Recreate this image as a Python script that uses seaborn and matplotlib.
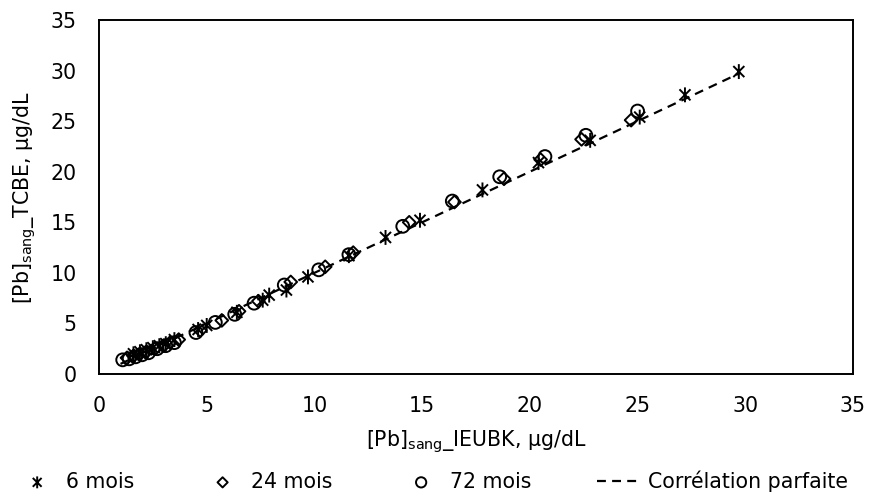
import numpy as np
import pandas as pd
import matplotlib
matplotlib.use("Agg")
import matplotlib.pyplot as plt
from matplotlib.path import Path
import seaborn as sns

# ---- data ----
x_6 = [1.6, 1.9, 2.2, 2.5, 2.8, 3.1, 3.5, 4.6, 5.0, 6.4, 7.6, 7.9, 8.7, 9.7, 11.6, 13.3, 14.9, 17.8, 20.4, 22.8, 25.1, 27.2, 29.7]
y_6 = [2.0, 2.2, 2.4, 2.6, 2.8, 3.0, 3.4, 4.4, 4.8, 6.1, 7.3, 7.8, 8.3, 9.6, 11.7, 13.5, 15.2, 18.2, 20.9, 23.1, 25.4, 27.6, 29.9]

x_24 = [1.3, 1.6, 1.9, 2.2, 2.6, 3.0, 3.3, 3.7, 4.7, 5.7, 6.5, 7.4, 8.9, 10.5, 11.8, 14.4, 16.5, 18.8, 20.5, 22.4, 24.7]
y_24 = [1.6, 1.8, 2.0, 2.2, 2.5, 2.8, 3.1, 3.4, 4.3, 5.3, 6.2, 7.2, 9.1, 10.6, 12.0, 15.0, 17.0, 19.3, 21.2, 23.2, 25.1]

x_72 = [1.1, 1.4, 1.7, 2.0, 2.3, 2.7, 3.1, 3.5, 4.5, 5.4, 6.3, 7.2, 8.6, 10.2, 11.6, 14.1, 16.4, 18.6, 20.7, 22.6, 25.0]
y_72 = [1.4, 1.5, 1.7, 1.9, 2.1, 2.5, 2.8, 3.1, 4.1, 5.1, 5.9, 7.0, 8.8, 10.3, 11.8, 14.6, 17.1, 19.5, 21.5, 23.6, 26.0]

line_x = [1.0, 29.8]
line_y = [1.0, 29.8]

labels = ["6 mois", "24 mois", "72 mois", "Corrélation parfaite"]
ticks = [0, 5, 10, 15, 20, 25, 30, 35]

sns.set_theme(style="white")
plt.rcParams['font.family'] = ['DejaVu Sans']
plt.rcParams['mathtext.fontset'] = 'dejavusans'
plt.rcParams['text.color'] = 'black'
plt.rcParams['axes.labelcolor'] = 'black'
plt.rcParams['legend.labelcolor'] = 'black'

FS = 14.8

fig = plt.figure(figsize=(8.7, 4.96), dpi=100)
ax = fig.add_axes([99 / 870, 1 - 374 / 496, 754 / 870, 354 / 496])

# asterisk marker: X + vertical bar
star = Path([(-1, -1), (1, 1), (-1, 1), (1, -1), (0, -1.35), (0, 1.35)],
            [Path.MOVETO, Path.LINETO, Path.MOVETO, Path.LINETO, Path.MOVETO, Path.LINETO])

sns.lineplot(x=line_x, y=line_y, ax=ax, color="black", linestyle=(0, (4, 2.8)),
             linewidth=1.6, label=labels[3], zorder=1)
sns.scatterplot(x=x_6, y=y_6, ax=ax, marker=star, s=115, facecolor="none",
                edgecolor="black", linewidth=1.4, label=labels[0], zorder=3)
sns.scatterplot(x=x_24, y=y_24, ax=ax, marker="D", s=42, facecolor="none",
                edgecolor="black", linewidth=1.4, label=labels[1], zorder=3)
sns.scatterplot(x=x_72, y=y_72, ax=ax, marker="o", s=85, facecolor="none",
                edgecolor="black", linewidth=1.4, label=labels[2], zorder=3)

ax.set_xlim(0, 35)
ax.set_ylim(0, 35)
ax.set_xticks(ticks)
ax.set_yticks(ticks)
ax.tick_params(axis="both", length=0, labelsize=FS, colors="black", pad=16)
for sp in ax.spines.values():
    sp.set_visible(True)
    sp.set_color("black")
    sp.set_linewidth(1.4)

ax.set_xlabel(r"[Pb]$_{\mathregular{sang}}$_IEUBK, µg/dL", fontsize=FS, color="black", va="center")
ax.set_ylabel(r"[Pb]$_{\mathregular{sang}}$_TCBE, µg/dL", fontsize=FS, color="black", va="center")
ax.xaxis.set_label_coords(0.5, (374 - 442) / 354)
ax.yaxis.set_label_coords((25 - 99) / 754, 0.5)

h, l = ax.get_legend_handles_labels()
order = [l.index(t) for t in labels]
if ax.get_legend():
    ax.get_legend().remove()
leg = fig.legend([h[i] for i in order], [l[i] for i in order], loc="center",
                 bbox_to_anchor=(0.496, 1 - 481 / 496), ncol=4, frameon=False, fontsize=FS,
                 markerscale=0.8, handlelength=2.2, columnspacing=3.2, handletextpad=0.3,
                 borderaxespad=0, borderpad=0, labelcolor="black")

fig.savefig("out.png", dpi=100)
